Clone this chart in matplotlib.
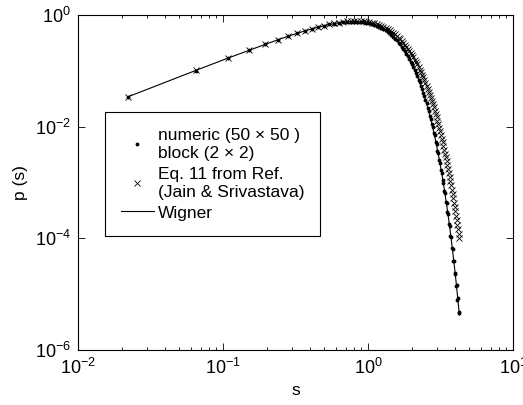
import matplotlib
matplotlib.use("Agg")
import matplotlib.pyplot as plt
from matplotlib.ticker import NullLocator, LogLocator

# bin centres of the spacing histogram
S = [
    0.022, 0.065, 0.108, 0.152, 0.195, 0.238, 0.281, 0.325, 0.368, 0.411,
    0.455, 0.498, 0.541, 0.585, 0.628, 0.671, 0.714, 0.758, 0.801, 0.844,
    0.888, 0.931, 0.974, 1.018, 1.061, 1.104, 1.147, 1.191, 1.234, 1.277,
    1.321, 1.364, 1.407, 1.451, 1.494, 1.537, 1.580, 1.624, 1.667, 1.710,
    1.754, 1.797, 1.840, 1.884, 1.927, 1.970, 2.013, 2.057, 2.100, 2.143,
    2.187, 2.230, 2.273, 2.317, 2.360, 2.403, 2.446, 2.490, 2.533, 2.576,
    2.620, 2.663, 2.706, 2.750, 2.793, 2.836, 2.879, 2.923, 2.966, 3.009,
    3.053, 3.096, 3.139, 3.183, 3.226, 3.269, 3.312, 3.356, 3.399, 3.442,
    3.486, 3.529, 3.572, 3.616, 3.659, 3.702, 3.745, 3.789, 3.832, 3.875,
    3.919, 3.962, 4.005, 4.049, 4.092, 4.135, 4.178, 4.222, 4.265,
]

# Wigner surmise
P_WIGNER = [
    0.03400, 0.1017, 0.1685, 0.2338, 0.2971, 0.3578, 0.4154, 0.4696, 0.5198, 0.5657,
    0.6072, 0.6438, 0.6755, 0.7021, 0.7236, 0.7401, 0.7516, 0.7582, 0.7602, 0.7576,
    0.7509, 0.7403, 0.7262, 0.7088, 0.6885, 0.6657, 0.6408, 0.6142, 0.5861, 0.5571,
    0.5273, 0.4970, 0.4667, 0.4365, 0.4067, 0.3775, 0.3491, 0.3216, 0.2952, 0.2700,
    0.2461, 0.2235, 0.2022, 0.1824, 0.1639, 0.1468, 0.1310, 0.1165, 0.1033, 0.09127,
    0.08034, 0.07051, 0.06167, 0.05375, 0.04671, 0.04047, 0.03493, 0.03004, 0.02574, 0.02202,
    0.01876, 0.01594, 0.01352, 0.01140, 0.00961, 0.00806, 0.00674, 0.00560, 0.00465, 0.003848,
    0.003179, 0.002616, 0.002145, 0.001755, 0.001430, 0.001162, 0.000941, 0.000760, 0.000612, 0.000491,
    0.000393, 0.000314, 0.000249, 0.0001976, 0.0001562, 0.0001229, 9.65e-5, 7.55e-5, 5.90e-5, 4.59e-5,
    3.56e-5, 2.76e-5, 2.13e-5, 1.63e-5, 1.25e-5, 9.5e-6, 7.3e-6, 5.5e-6, 4.2e-6,
]

# Eq. 11 (Jain & Srivastava)
P_EQ11 = [
    0.03400, 0.1017, 0.1685, 0.2338, 0.2972, 0.3580, 0.4159, 0.4704, 0.5211, 0.5678,
    0.6101, 0.6478, 0.6809, 0.7092, 0.7327, 0.7515, 0.7655, 0.7749, 0.7799, 0.7807,
    0.7775, 0.7706, 0.7601, 0.7466, 0.7301, 0.7112, 0.6900, 0.6669, 0.6422, 0.6163,
    0.5893, 0.5617, 0.5336, 0.5053, 0.4771, 0.4489, 0.4212, 0.3940, 0.3677, 0.3420,
    0.3172, 0.2935, 0.2708, 0.2492, 0.2288, 0.2095, 0.1913, 0.1743, 0.1583, 0.1436,
    0.1298, 0.1172, 0.1055, 0.09472, 0.08489, 0.07591, 0.06771, 0.06027, 0.05352, 0.04747,
    0.04197, 0.03706, 0.03265, 0.02868, 0.02518, 0.02205, 0.01927, 0.01680, 0.01463, 0.01272,
    0.01103, 0.00954, 0.00824, 0.00709, 0.00610, 0.00524, 0.00450, 0.003853, 0.003294, 0.002812,
    0.002393, 0.002034, 0.001728, 0.001465, 0.001238, 0.001045, 0.000882, 0.000742, 0.000622, 0.000522,
    0.000437, 0.000365, 0.000305, 0.000254, 0.000211, 0.000176, 0.000146, 0.000121, 9.98e-5,
]

# numerical histogram, 50x50 matrices with 2x2 blocks
P_NUMERIC = [
    0.0335, 0.1010, 0.1702, 0.2321, 0.2990, 0.3561, 0.4172, 0.4680, 0.5220, 0.5641,
    0.6090, 0.6420, 0.6771, 0.7003, 0.7251, 0.7386, 0.7530, 0.7566, 0.7618, 0.7559,
    0.7525, 0.7388, 0.7279, 0.7070, 0.6901, 0.6640, 0.6425, 0.6125, 0.5879, 0.5553,
    0.5290, 0.4951, 0.4685, 0.4349, 0.4083, 0.3758, 0.3506, 0.3199, 0.2968, 0.2684,
    0.2476, 0.2219, 0.2036, 0.1809, 0.1652, 0.1455, 0.1322, 0.1153, 0.1044, 0.0901,
    0.0812, 0.0697, 0.0624, 0.0530, 0.0474, 0.0398, 0.0355, 0.0295, 0.0262, 0.0216,
    0.0192, 0.0155, 0.0139, 0.0110, 0.0099, 0.0078, 0.0070, 0.0054, 0.0048, 0.00365,
    0.00332, 0.00250, 0.00224, 0.00166, 0.00150, 0.00109, 0.00099, 0.00071, 0.00065, 0.00045,
    0.00042, 0.00029, 0.00027, 0.000180, 0.000168, 0.000110, 0.000105, 6.6e-5, 6.5e-5, 3.9e-5,
    3.9e-5, 2.3e-5, 2.4e-5, 1.4e-5, 1.45e-5, 8.0e-6, 8.5e-6, 4.6e-6, 4.7e-6,
]

plt.rcParams['font.family'] = ['Liberation Sans', 'DejaVu Sans']
plt.rcParams['mathtext.fontset'] = 'custom'
plt.rcParams['mathtext.rm'] = 'Liberation Sans'
plt.rcParams['mathtext.it'] = 'Liberation Sans:italic'
plt.rcParams['axes.linewidth'] = 0.8

fig = plt.figure(figsize=(5.23, 4.05), dpi=100)
ax = fig.add_axes([0.149, 0.136, 0.832, 0.827])

ax.loglog(S, P_NUMERIC, 'k.', markersize=3.5, label='numeric (50 × 50 )\nblock (2 × 2)')
ax.loglog(S, P_EQ11, 'kx', markersize=4.5, markeredgewidth=0.6,
          label='Eq. 11 from Ref.\n(Jain & Srivastava)')
ax.loglog(S, P_WIGNER, 'k-', linewidth=0.8, label='Wigner')

ax.set_xlim(1e-2, 1e1)
ax.set_ylim(1e-6, 1e0)
ax.set_yticks([1e-6, 1e-4, 1e-2, 1e0])
ax.yaxis.set_minor_locator(NullLocator())
ax.xaxis.set_minor_locator(LogLocator(base=10, subs=range(2, 10)))
ax.tick_params(which='both', direction='in', top=True, right=True, labelsize=13, width=0.6)
ax.tick_params(which='major', length=5)
ax.tick_params(which='minor', length=2.5)
ax.tick_params(axis='x', which='major', pad=6)
ax.tick_params(axis='y', which='major', pad=5)

ax.set_xlabel('s', fontsize=12.5, labelpad=3)
ax.set_ylabel('p (s)', fontsize=12.5, labelpad=5)

leg = ax.legend(loc='upper left', bbox_to_anchor=(0.062, 0.710), borderaxespad=0,
                fontsize=12.5, numpoints=1, fancybox=False, framealpha=1,
                edgecolor='black', handlelength=1.9, handletextpad=0.25,
                borderpad=0.9, labelspacing=0.3)
leg.get_frame().set_linewidth(0.8)
for t in leg.get_texts():
    t.set_linespacing(1.3)

fig.savefig('out.png', dpi=100)
